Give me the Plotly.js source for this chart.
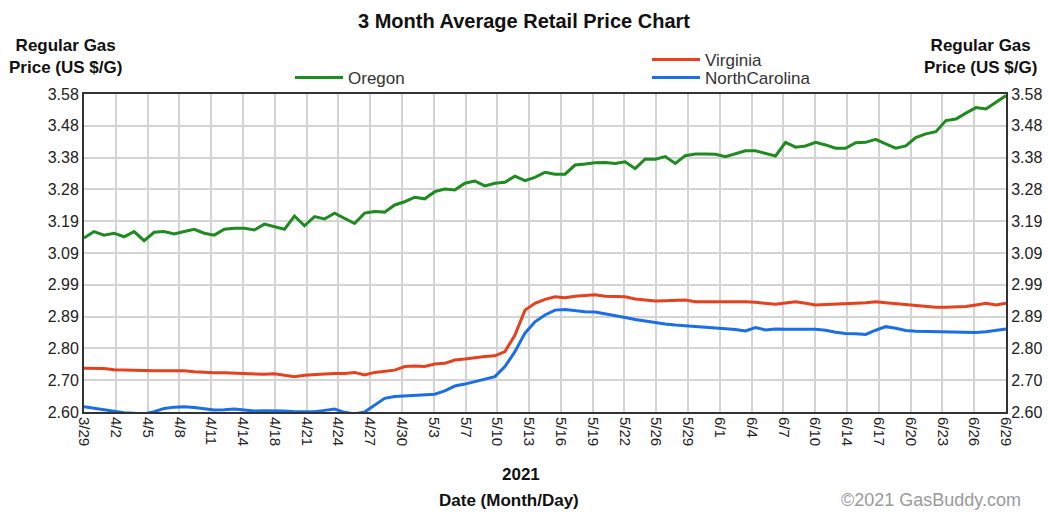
<!DOCTYPE html>
<html>
<head>
<meta charset="utf-8">
<script src="https://cdn.plot.ly/plotly-3.0.1.min.js"></script>
<style>html,body{margin:0;padding:0;background:#fff;}#chart{width:1048px;height:513px;}</style>
</head>
<body>
<div id="chart"></div>
<script>
// Daily values, 3/29 .. 6/29 (2021)
const oregon = [3.136,3.156,3.145,3.151,3.140,3.156,3.128,3.154,3.156,3.149,3.156,3.163,3.151,3.145,3.163,3.166,3.166,3.161,3.179,3.171,3.163,3.204,3.174,3.202,3.195,3.213,3.197,3.181,3.213,3.218,3.216,3.238,3.248,3.262,3.257,3.279,3.287,3.284,3.305,3.312,3.297,3.305,3.308,3.327,3.313,3.323,3.339,3.333,3.333,3.361,3.364,3.368,3.369,3.366,3.371,3.350,3.380,3.379,3.387,3.366,3.390,3.395,3.395,3.394,3.387,3.395,3.405,3.405,3.397,3.389,3.431,3.416,3.420,3.431,3.423,3.413,3.413,3.430,3.431,3.440,3.426,3.413,3.420,3.446,3.457,3.464,3.498,3.503,3.521,3.538,3.534,3.554,3.575];
const virginia = [2.735,2.735,2.734,2.730,2.729,2.728,2.726,2.727,2.727,2.728,2.727,2.724,2.722,2.721,2.721,2.720,2.719,2.718,2.716,2.718,2.714,2.709,2.713,2.716,2.717,2.719,2.719,2.722,2.714,2.722,2.725,2.729,2.740,2.742,2.740,2.748,2.750,2.760,2.763,2.768,2.771,2.773,2.786,2.837,2.914,2.935,2.947,2.955,2.952,2.957,2.958,2.961,2.957,2.955,2.955,2.948,2.946,2.942,2.943,2.944,2.945,2.940,2.940,2.941,2.942,2.942,2.940,2.938,2.935,2.932,2.936,2.940,2.935,2.930,2.931,2.932,2.932,2.935,2.937,2.940,2.937,2.934,2.932,2.929,2.926,2.923,2.923,2.924,2.925,2.930,2.935,2.930,2.935];
const northCarolina = [2.616,2.611,2.606,2.601,2.598,2.596,2.594,2.601,2.611,2.615,2.616,2.614,2.610,2.606,2.607,2.609,2.606,2.603,2.604,2.604,2.603,2.601,2.601,2.601,2.605,2.609,2.599,2.594,2.600,2.620,2.642,2.648,2.650,2.651,2.652,2.655,2.665,2.680,2.686,2.693,2.700,2.709,2.740,2.786,2.843,2.878,2.899,2.914,2.916,2.912,2.909,2.908,2.903,2.897,2.891,2.885,2.880,2.875,2.871,2.868,2.866,2.864,2.861,2.859,2.857,2.854,2.850,2.860,2.853,2.856,2.855,2.854,2.855,2.855,2.852,2.846,2.842,2.841,2.839,2.852,2.863,2.858,2.851,2.849,2.848,2.847,2.846,2.845,2.844,2.845,2.847,2.851,2.856];
const xTickLabels = ["3/29","4/2","4/5","4/8","4/11","4/14","4/18","4/21","4/24","4/27","4/30","5/3","5/7","5/10","5/13","5/16","5/19","5/22","5/26","5/29","6/1","6/4","6/7","6/10","6/14","6/17","6/20","6/23","6/26","6/29"];
const yTickLabels = ["2.60","2.70","2.80","2.89","2.99","3.09","3.19","3.28","3.38","3.48","3.58"];
const yMin = 2.60, yMax = 3.58;

const nDays = oregon.length;
const days = oregon.map((_, i) => i);
const xTickVals = xTickLabels.map((_, i) => i * (nDays - 1) / (xTickLabels.length - 1));
const yTickVals = yTickLabels.map((_, i) => yMin + i * (yMax - yMin) / (yTickLabels.length - 1));

const FONT = "Liberation Sans, Arial, sans-serif";
const L = 84, R = 1006, T = 94, B = 412;
const px = v => (v - L) / (R - L);
const py = v => (B - v) / (B - T);

const traces = [
  {x: days, y: oregon, name: "Oregon", type: "scatter", mode: "lines", yaxis: "y2",
   line: {color: "#1f8a1f", width: 3}, legend: "legend"},
  {x: days, y: virginia, name: "Virginia", type: "scatter", mode: "lines",
   line: {color: "#e5411f", width: 3}, legend: "legend2"},
  {x: days, y: northCarolina, name: "NorthCarolina", type: "scatter", mode: "lines",
   line: {color: "#1c6ee6", width: 3}, legend: "legend3"}
];

const axisY = {
  range: [yMin, yMax], tickmode: "array", tickvals: yTickVals, ticktext: yTickLabels,
  showgrid: true, gridcolor: "#d4d4d4", gridwidth: 2, zeroline: false,
  showline: true, linecolor: "#333", linewidth: 2,
  ticks: "", ticklen: 0, tickfont: {family: FONT, size: 16, color: "#222"}, fixedrange: true
};

const legendBase = {xanchor: "left", yanchor: "middle", bgcolor: "rgba(0,0,0,0)",
  font: {family: FONT, size: 17, color: "#333"}, itemwidth: 48};

const layout = {
  width: 1048, height: 513,
  margin: {l: L, r: 1048 - R, t: T, b: 513 - B},
  paper_bgcolor: "#fff", plot_bgcolor: "#fff",
  font: {family: FONT, color: "#222"},
  title: {text: "<b>3 Month Average Retail Price Chart</b>", font: {family: FONT, size: 20, color: "#111"},
          x: 0.5, xanchor: "center", y: 0.96, yanchor: "middle"},
  xaxis: {
    range: [0, nDays - 1], tickmode: "array", tickvals: xTickVals, ticktext: xTickLabels,
    tickangle: 90, showgrid: true, gridcolor: "#d4d4d4", gridwidth: 2, zeroline: false,
    showline: true, linecolor: "#333", linewidth: 2, mirror: true, ticks: "",
    tickfont: {family: FONT, size: 15, color: "#222"}, fixedrange: true
  },
  yaxis: Object.assign({}, axisY, {side: "left", mirror: true}),
  yaxis2: Object.assign({}, axisY, {side: "right", overlaying: "y", showgrid: false}),
  showlegend: true,
  legend: Object.assign({}, legendBase, {x: px(290), y: py(78)}),
  legend2: Object.assign({}, legendBase, {x: px(647), y: py(60)}),
  legend3: Object.assign({}, legendBase, {x: px(647), y: py(78)}),
  annotations: [
    {text: "<b>Regular Gas<br>Price (US $/G)</b>", xref: "paper", yref: "paper", x: px(65), y: py(57),
     xanchor: "center", yanchor: "middle", showarrow: false, align: "center",
     font: {family: FONT, size: 17, color: "#111"}},
    {text: "<b>Regular Gas<br>Price (US $/G)</b>", xref: "paper", yref: "paper", x: px(980), y: py(57),
     xanchor: "center", yanchor: "middle", showarrow: false, align: "center",
     font: {family: FONT, size: 17, color: "#111"}},
    {text: "<b>2021</b>", xref: "paper", yref: "paper", x: px(521), y: py(474),
     xanchor: "center", yanchor: "middle", showarrow: false, font: {family: FONT, size: 17, color: "#111"}},
    {text: "<b>Date (Month/Day)</b>", xref: "paper", yref: "paper", x: px(509), y: py(500),
     xanchor: "center", yanchor: "middle", showarrow: false, font: {family: FONT, size: 17, color: "#111"}},
    {text: "©2021 GasBuddy.com", xref: "paper", yref: "paper", x: px(1023), y: py(500),
     xanchor: "right", yanchor: "middle", showarrow: false, font: {family: FONT, size: 18, color: "#9a9a9a"}}
  ]
};

Plotly.newPlot("chart", traces, layout, {staticPlot: true, displayModeBar: false});
</script>
</body>
</html>
